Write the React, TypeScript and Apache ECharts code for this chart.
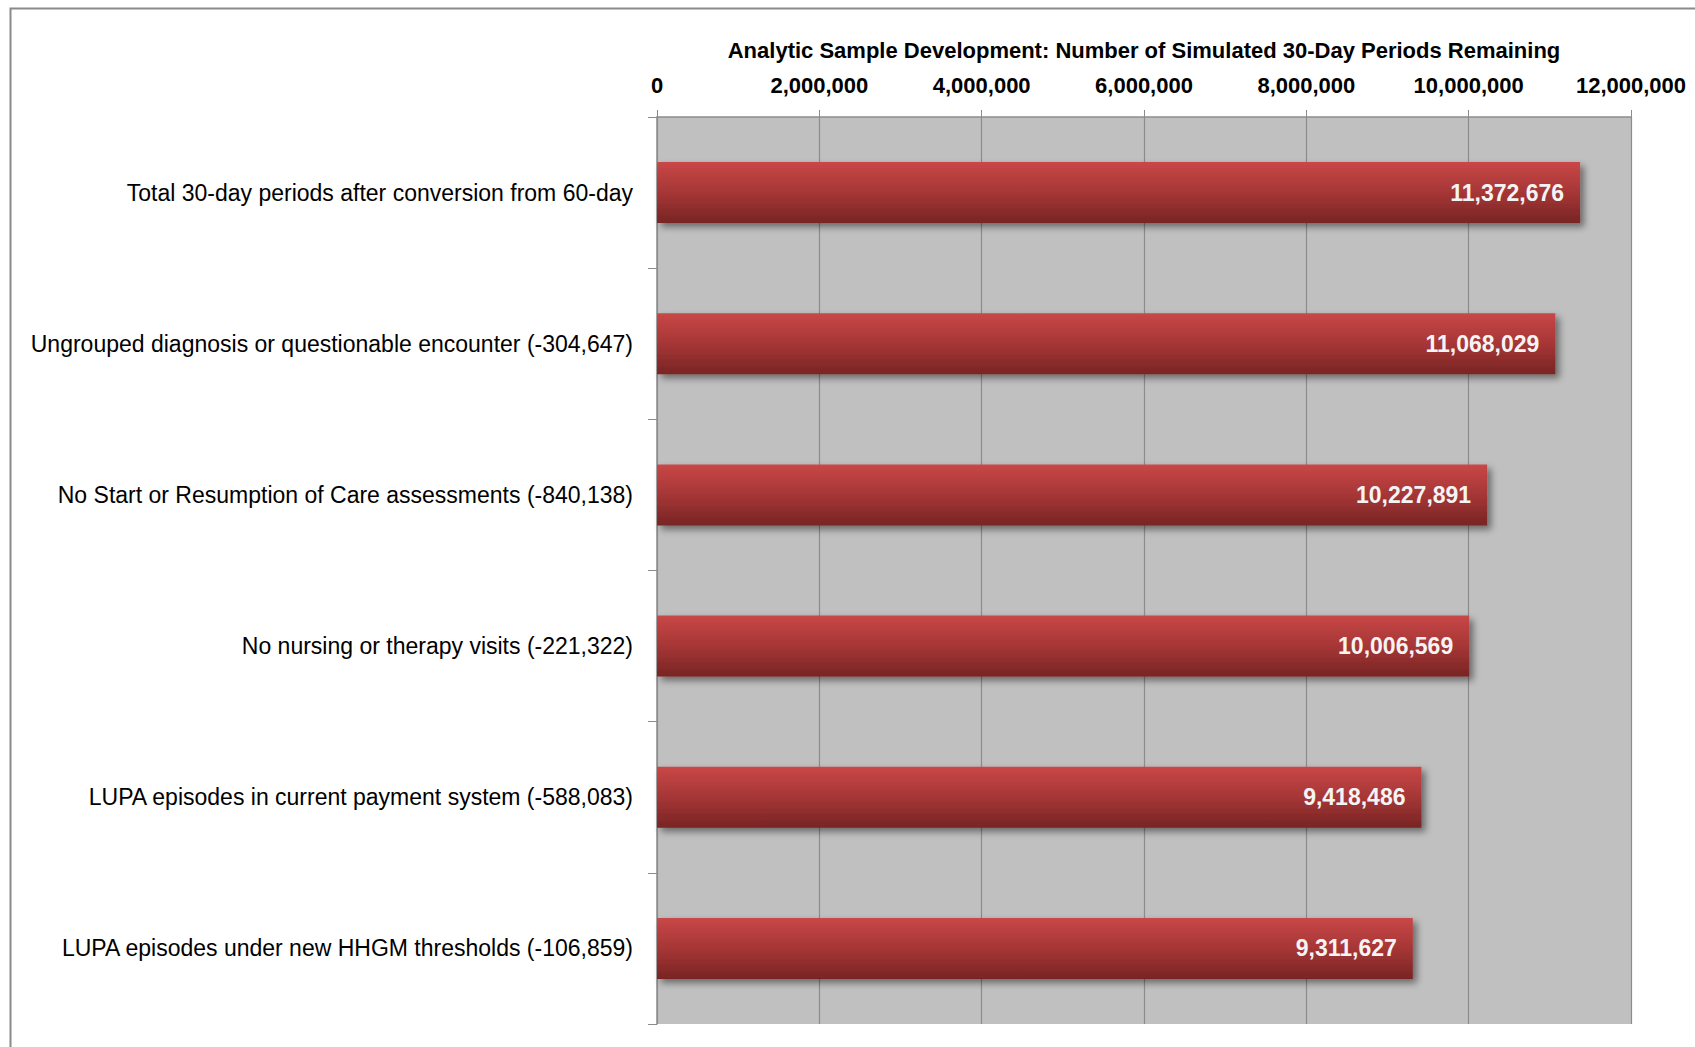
import React, { useEffect, useRef } from "react";
import * as echarts from "echarts";

const categories = [
  "Total 30-day periods after conversion from 60-day",
  "Ungrouped diagnosis or questionable encounter (-304,647)",
  "No Start or Resumption of Care assessments (-840,138)",
  "No nursing or therapy visits (-221,322)",
  "LUPA episodes in current payment system (-588,083)",
  "LUPA episodes under new HHGM thresholds (-106,859)",
];
const values = [11372676, 11068029, 10227891, 10006569, 9418486, 9311627];
const axisTitle = "Analytic Sample Development: Number of Simulated 30-Day Periods Remaining";
const axisMin = 0;
const axisMax = 12000000;
const axisStep = 2000000;

const FONT = "'Liberation Sans', Arial, sans-serif";
const fmt = (v: number) => Math.round(v).toLocaleString("en-US");

export default function App() {
  const ref = useRef<HTMLDivElement>(null);
  useEffect(() => {
    if (!ref.current) return;
    const chart = echarts.init(ref.current, undefined, { renderer: "svg" });
    chart.setOption({
      animation: false,
      backgroundColor: "#ffffff",
      graphic: [
        {
          type: "rect",
          left: 8,
          top: 6,
          shape: { width: 1800, height: 1200 },
          style: { fill: "none", stroke: "#8a8a8a", lineWidth: 2 },
          z: 100,
        },
      ],
      grid: {
        left: 657,
        right: 64,
        top: 117,
        bottom: 23,
        show: true,
        backgroundColor: "#c0c0c0",
        borderWidth: 0,
        containLabel: false,
        outerBoundsMode: "none",
      },
      xAxis: {
        type: "value",
        position: "top",
        min: axisMin,
        max: axisMax,
        interval: axisStep,
        name: axisTitle,
        nameLocation: "middle",
        nameGap: 56,
        nameTextStyle: {
          fontFamily: FONT,
          fontWeight: "bold",
          fontSize: 22,
          color: "#000",
        },
        axisLine: { show: true, lineStyle: { color: "#8c8c8c", width: 1.5 } },
        axisTick: { show: true, length: 7, lineStyle: { color: "#8c8c8c" } },
        axisLabel: {
          fontFamily: FONT,
          fontWeight: "bold",
          fontSize: 22,
          color: "#000",
          margin: 21,
          formatter: (v: number) => fmt(v),
        },
        splitLine: { show: true, lineStyle: { color: "#8c8c8c", width: 1.2 } },
      },
      yAxis: {
        type: "category",
        data: categories,
        inverse: true,
        axisLine: { show: true, lineStyle: { color: "#8c8c8c", width: 1.5 } },
        axisTick: { show: true, length: 9, lineStyle: { color: "#8c8c8c" } },
        axisLabel: {
          fontFamily: FONT,
          fontSize: 23,
          color: "#000",
          margin: 24,
        },
        splitLine: { show: false },
      },
      series: [
        {
          type: "bar",
          data: values,
          barWidth: 61,
          itemStyle: {
            color: new echarts.graphic.LinearGradient(0, 0, 0, 1, [
              { offset: 0, color: "#c94747" },
              { offset: 0.5, color: "#a63636" },
              { offset: 1, color: "#782424" },
            ]),
            shadowColor: "rgba(0,0,0,0.45)",
            shadowBlur: 7,
            shadowOffsetX: 4,
            shadowOffsetY: 4,
          },
          label: {
            show: true,
            position: "insideRight",
            distance: 16,
            fontFamily: FONT,
            fontWeight: "bold",
            fontSize: 23,
            color: "#f4f4f4",
            formatter: (p: any) => fmt(p.value),
          },
        },
      ],
    });
    return () => chart.dispose();
  }, []);
  return (
    <div
      ref={ref}
      style={{ position: "fixed", left: 0, top: 0, width: 1695, height: 1047 }}
    />
  );
}
